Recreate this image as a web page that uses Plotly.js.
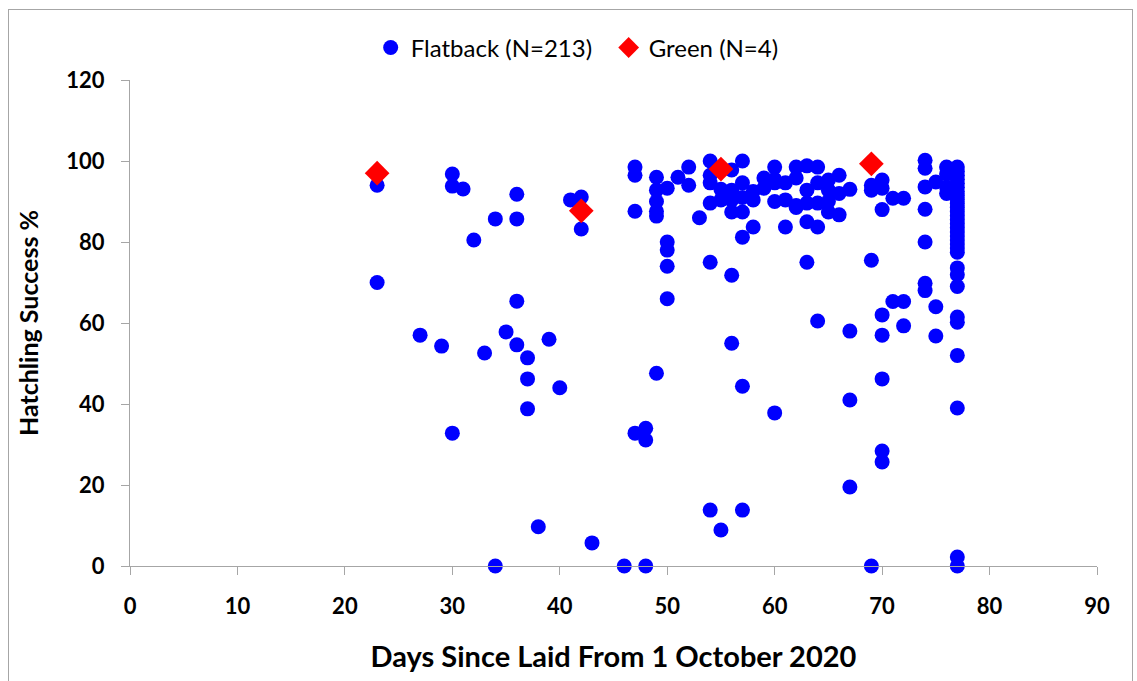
<!DOCTYPE html>
<html>
<head>
<meta charset="utf-8">
<script src="https://cdn.plot.ly/plotly-3.0.1.min.js"></script>
<style>
  html, body { margin: 0; padding: 0; background: #fff; }
  #wrap { position: relative; width: 1137px; height: 681px; }
  #chart { width: 1137px; height: 681px; }
  #frame { position: absolute; left: 8px; top: 9px; width: 1125px; height: 680px;
           border: 1px solid #a6a6a6; box-sizing: border-box; pointer-events: none; }
</style>
</head>
<body>
<div id="wrap">
  <div id="chart"></div>
  <div id="frame"></div>
</div>
<script>
// Flatback nests: day laid (since 1 Oct 2020) and hatching success (%)
const flatbackDays = [
  23, 23,
  27, 29,
  30, 30, 30,
  31, 32, 33,
  34, 34,
  35,
  36, 36, 36, 36,
  37, 37, 37,
  38, 39, 40, 41,
  42, 42,
  43, 46,
  47, 47, 47, 47,
  48, 48, 48,
  49, 49, 49, 49, 49, 49,
  50, 50, 50, 50, 50,
  51,
  52, 52,
  53,
  54, 54, 54, 54, 54, 54,
  55, 55, 55,
  56, 56, 56, 56, 56, 56,
  57, 57, 57, 57, 57, 57, 57,
  58, 58, 58,
  59, 59,
  60, 60, 60, 60, 60,
  61, 61, 61,
  62, 62, 62, 62,
  63, 63, 63, 63, 63,
  64, 64, 64, 64, 64,
  65, 65, 65, 65,
  66, 66, 66,
  67, 67, 67, 67,
  69, 69, 69, 69,
  70, 70, 70, 70, 70, 70, 70, 70,
  71, 71,
  72, 72, 72,
  74, 74, 74, 74, 74, 74, 74,
  75, 75, 75,
  76, 76, 76, 76,
  77, 77, 77, 77, 77, 77, 77, 77, 77, 77, 77, 77, 77, 77, 77, 77,
  77, 77, 77, 77, 77, 77, 77, 77, 77, 77, 77, 77, 77, 77, 77
];
const flatbackSuccess = [
  94, 70,
  57, 54.3,
  96.8, 93.8, 32.8,
  93.1, 80.5, 52.6,
  85.7, 0,
  57.8,
  91.8, 85.7, 65.4, 54.6,
  51.4, 46.2, 38.8,
  9.7, 56, 44, 90.4,
  91.1, 83.2,
  5.7, 0,
  98.5, 96.5, 87.6, 32.8,
  34, 31.1, 0,
  96, 92.8, 90, 87.6, 86.4, 47.6,
  93.3, 80, 78, 74, 66,
  96,
  98.5, 94,
  86,
  100, 96.5, 94.6, 89.6, 75, 13.8,
  93, 90.4, 8.9,
  97.8, 92.8, 90.4, 87.4, 71.8, 55,
  100, 94.6, 91, 87.4, 81.2, 44.4, 13.8,
  92.5, 90.4, 83.7,
  95.8, 93.3,
  98.5, 95.5, 94.6, 90, 37.8,
  94.6, 90.4, 83.7,
  98.5, 95.8, 89, 88.5,
  98.8, 92.8, 89.6, 85, 75,
  98.5, 94.6, 89.6, 83.7, 60.5,
  95.3, 92.8, 90, 87.4,
  96.5, 92, 86.7,
  93, 58, 41, 19.5,
  94, 92.8, 75.5, 0,
  95.3, 93.3, 88, 62, 57, 46.2, 28.4, 25.7,
  90.8, 65.3,
  90.8, 65.3, 59.3,
  100.2, 98.2, 93.6, 88.1, 80, 69.8, 68,
  94.8, 64, 56.8,
  98.5, 96.8, 93.5, 92,
  98.5, 97.5, 96.5, 95.5, 94.5, 93.5, 92.5, 91.5, 90.5, 89.5, 88.5, 87.5, 86.5, 85.5, 84.5, 83.5,
  82.5, 81.5, 80.5, 79.5, 78.5, 77.5, 73.6, 71.9, 69, 61.5, 60.2, 52, 39, 2.2, 0
];

// Green turtle nests
const greenDays = [23, 42, 55, 69];
const greenSuccess = [97, 87.7, 98, 99.3];

const xTicks = [0, 10, 20, 30, 40, 50, 60, 70, 80, 90];
const yTicks = [0, 20, 40, 60, 80, 100, 120];

const fontFamily = 'Lato, "Open Sans", sans-serif';
const axisGrey = '#a6a6a6';

const traces = [
  {
    type: 'scatter', mode: 'markers', name: 'Flatback (N=213)',
    x: flatbackDays, y: flatbackSuccess,
    marker: { symbol: 'circle', size: 15, color: '#0000ff' },
    cliponaxis: false
  },
  {
    type: 'scatter', mode: 'markers', name: 'Green (N=4)',
    x: greenDays, y: greenSuccess,
    marker: { symbol: 'diamond', size: 19, color: '#ff0000' },
    cliponaxis: false
  }
];

const layout = {
  width: 1137, height: 681,
  paper_bgcolor: '#ffffff', plot_bgcolor: '#ffffff',
  margin: { l: 130, r: 40, t: 80, b: 115 },
  font: { family: fontFamily, color: '#000000' },
  showlegend: true,
  legend: {
    orientation: 'h', x: 0.495, xanchor: 'center', y: 1.066, yanchor: 'middle',
    font: { size: 24, family: fontFamily, color: '#000' },
    entrywidth: 193, entrywidthmode: 'pixels',
    bgcolor: 'rgba(0,0,0,0)'
  },
  xaxis: {
    range: [0, 90], tickvals: xTicks, ticktext: xTicks.map(String),
    showgrid: false, zeroline: false,
    showline: true, linecolor: axisGrey, linewidth: 1,
    ticks: 'outside', ticklen: 8, tickcolor: axisGrey, tickwidth: 1,
    ticklabelstandoff: 13,
    tickfont: { size: 22, family: fontFamily, weight: 'bold', color: '#000' },
    title: { text: '<b>Days Since Laid From 1 October 2020</b>', standoff: 28,
             font: { size: 29, family: fontFamily, color: '#000' } }
  },
  yaxis: {
    range: [0, 120], tickvals: yTicks, ticktext: yTicks.map(String),
    showgrid: false, zeroline: false,
    showline: true, linecolor: axisGrey, linewidth: 1,
    ticks: 'outside', ticklen: 8, tickcolor: axisGrey, tickwidth: 1,
    ticklabelstandoff: 12,
    tickfont: { size: 22, family: fontFamily, weight: 'bold', color: '#000' },
    title: { text: '<b>Hatchling Success %</b>', standoff: 20,
             font: { size: 25, family: fontFamily, color: '#000' } }
  }
};

Plotly.newPlot('chart', traces, layout, { staticPlot: true, displayModeBar: false });
</script>
</body>
</html>
